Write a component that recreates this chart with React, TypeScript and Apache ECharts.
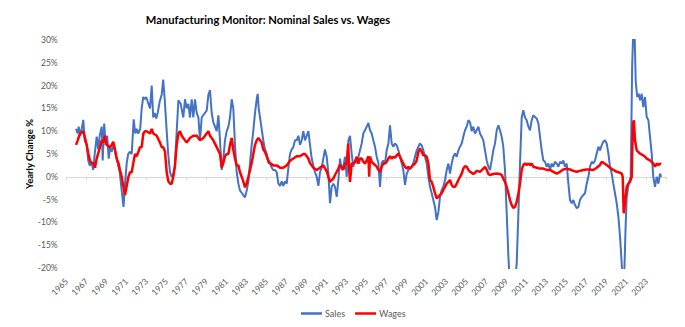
import React, { useEffect, useRef } from "react";
import * as echarts from "echarts";

const titleText = "Manufacturing Monitor: Nominal Sales vs. Wages";
const yAxisName = "Yearly Change %";
const seriesNames = ["Sales", "Wages"];
const yTicks = { min: -20, max: 30, step: 5 };
const xTicks = { min: 1965, max: 2025, step: 2, lastLabel: 2023 };

// [decimal year, yearly change %]
const sales: [number, number][] = [
  [1965.93, 10.5], [1966.1, 9.5], [1966.2, 11], [1966.35, 9], [1966.5, 10.5], [1966.66, 12.5], [1966.8, 8],
  [1967.0, 7], [1967.15, 3.6], [1967.3, 2.5], [1967.5, 3], [1967.65, 1.5], [1967.8, 5],
  [1968.0, 8.8], [1968.15, 6], [1968.3, 9], [1968.5, 11], [1968.6, 3.6], [1968.75, 11.7], [1968.9, 7],
  [1969.05, 9], [1969.2, 4], [1969.35, 6.5], [1969.5, 5.5], [1969.7, 7], [1969.9, 5],
  [1970.1, 3], [1970.3, 1], [1970.45, -2], [1970.55, -4], [1970.68, -6.6], [1970.85, -1],
  [1971.0, 3], [1971.15, 5], [1971.3, 5.5], [1971.5, 5], [1971.7, 12.6], [1971.85, 9.5],
  [1972.0, 10.5], [1972.15, 9.5], [1972.35, 10.5], [1972.5, 15], [1972.65, 17.5], [1972.8, 17], [1972.95, 17.5],
  [1973.1, 16.5], [1973.33, 15], [1973.5, 20], [1973.65, 13], [1973.8, 14], [1973.95, 12.8],
  [1974.1, 14], [1974.3, 16.5], [1974.5, 18], [1974.65, 21.3], [1974.8, 17],
  [1975.0, 10], [1975.15, 5], [1975.33, 1], [1975.5, 0], [1975.66, 0.5], [1975.8, 2],
  [1976.0, 10], [1976.17, 16.8], [1976.4, 16], [1976.66, 13], [1976.83, 17],
  [1977.0, 15], [1977.17, 16], [1977.33, 13], [1977.5, 17], [1977.66, 13], [1977.83, 17],
  [1978.0, 14], [1978.17, 13], [1978.33, 8], [1978.5, 13], [1978.66, 13.5], [1978.83, 14],
  [1979.0, 14.5], [1979.17, 18], [1979.33, 19], [1979.5, 14], [1979.66, 12], [1979.83, 11],
  [1980.0, 10], [1980.17, 13.5], [1980.33, 8], [1980.5, 1.5], [1980.66, 4], [1980.83, 8],
  [1981.0, 10], [1981.17, 11], [1981.33, 13], [1981.5, 17], [1981.66, 15], [1981.83, 7],
  [1982.0, 1], [1982.17, -1.5], [1982.33, -3], [1982.5, -3.5], [1982.66, -4], [1982.83, -4.5],
  [1983.0, -3], [1983.17, -1], [1983.33, 3], [1983.5, 7], [1983.66, 10], [1983.83, 14],
  [1984.0, 17], [1984.1, 18.2], [1984.2, 15], [1984.4, 12], [1984.66, 8], [1984.83, 6],
  [1985.0, 5], [1985.17, 3], [1985.33, 3], [1985.5, 2], [1985.66, 1.5], [1985.83, 1.5],
  [1986.0, 1], [1986.17, -1.5], [1986.33, -2], [1986.5, -1], [1986.66, -2], [1986.83, -1],
  [1987.0, -1.5], [1987.17, 2], [1987.33, 5], [1987.5, 6], [1987.66, 6.5], [1987.83, 8],
  [1988.0, 8], [1988.17, 9], [1988.33, 7], [1988.5, 8], [1988.66, 10], [1988.83, 8],
  [1989.0, 9], [1989.17, 10], [1989.33, 7], [1989.5, 4], [1989.66, 2.5], [1989.83, 1],
  [1990.0, 0], [1990.17, -2], [1990.33, 1], [1990.5, 2], [1990.66, 4], [1990.83, 6],
  [1991.0, 4.4], [1991.17, 0.7], [1991.33, -5.8], [1991.5, -2.2], [1991.66, -1.5], [1991.83, -2.2],
  [1992.0, -4.4], [1992.17, -0.7], [1992.33, 4], [1992.5, 1.5], [1992.66, 2.2], [1992.83, 4.4],
  [1993.0, 0], [1993.17, 8], [1993.33, 9], [1993.5, 5], [1993.66, 2.2], [1993.83, 3.6],
  [1994.0, 3], [1994.17, 4.4], [1994.33, 5.8], [1994.5, 7.3], [1994.66, 9.5], [1994.83, 10.2],
  [1995.0, 11], [1995.17, 11.8], [1995.33, 10.2], [1995.5, 9.5], [1995.66, 8], [1995.83, 6.6],
  [1996.0, 4.4], [1996.17, 3], [1996.33, -2.2], [1996.5, 3], [1996.66, 3.6], [1996.83, 2.9],
  [1997.0, 5.8], [1997.17, 7.3], [1997.33, 11.3], [1997.5, 7.3], [1997.66, 6.6], [1997.83, 7.3],
  [1998.0, 6.9], [1998.17, 5.8], [1998.33, 4.4], [1998.5, 3], [1998.66, 1.5], [1998.83, -1.8],
  [1999.0, 0.7], [1999.17, 1.5], [1999.33, 1.8], [1999.5, 2.2], [1999.66, 3], [1999.83, 4.4],
  [2000.0, 5.8], [2000.17, 6.6], [2000.33, 7.3], [2000.5, 6.9], [2000.66, 5.8], [2000.83, 4.4],
  [2001.0, 2.9], [2001.17, 0], [2001.33, -2.2], [2001.5, -3.6], [2001.66, -5.1], [2001.83, -6.6],
  [2002.0, -9.5], [2002.17, -7.7], [2002.33, -4.4], [2002.5, -2.9], [2002.66, -2.2], [2002.83, -0.7],
  [2003.0, 1.5], [2003.17, 2.9], [2003.33, 0.7], [2003.5, 2.9], [2003.66, 4.4], [2003.83, 5.1],
  [2004.0, 4.4], [2004.17, 5.8], [2004.33, 6.6], [2004.5, 7.3], [2004.66, 8.8], [2004.83, 10.2],
  [2005.0, 11], [2005.17, 12.4], [2005.33, 12], [2005.5, 10], [2005.66, 11], [2005.83, 9.5],
  [2006.0, 10.2], [2006.17, 11], [2006.33, 9.5], [2006.5, 8.8], [2006.66, 8], [2006.83, 5.8],
  [2007.0, 3.6], [2007.17, 2.2], [2007.33, 1.5], [2007.5, 3.6], [2007.66, 5.8], [2007.83, 7.3],
  [2008.0, 10.2], [2008.17, 11.3], [2008.33, 10.2], [2008.5, 8.8], [2008.66, 6.6], [2008.83, 1.5],
  [2009.0, -8], [2009.17, -17.5], [2009.33, -24], [2009.5, -27], [2009.66, -26], [2009.83, -23],
  [2010.0, -19], [2010.17, -8], [2010.33, 2.9], [2010.5, 13], [2010.66, 14.6], [2010.83, 13],
  [2011.0, 12.4], [2011.17, 11], [2011.33, 10.2], [2011.5, 12.4], [2011.66, 13.5], [2011.83, 13.1],
  [2012.0, 12.8], [2012.17, 11.7], [2012.33, 8.8], [2012.5, 5.8], [2012.66, 3.6], [2012.83, 3.3],
  [2013.0, 2.2], [2013.17, 2.9], [2013.33, 1.5], [2013.5, 2.9], [2013.66, 2.2], [2013.83, 3.3],
  [2014.0, 2.9], [2014.17, 2.2], [2014.33, 3.3], [2014.5, 2.9], [2014.66, 3.6], [2014.83, 2.2],
  [2015.0, 2.9], [2015.17, -1.5], [2015.33, -5.1], [2015.5, -5.8], [2015.66, -5.1], [2015.83, -6.2],
  [2016.0, -6.9], [2016.17, -6.6], [2016.33, -5.1], [2016.5, -4.4], [2016.66, -4], [2016.83, -3.6],
  [2017.0, -1.5], [2017.17, 0], [2017.33, 2.2], [2017.5, 3.3], [2017.66, 2.9], [2017.83, 3.6],
  [2018.0, 5.1], [2018.17, 6.6], [2018.33, 5.8], [2018.5, 6.9], [2018.66, 7.7], [2018.83, 8],
  [2019.0, 7.3], [2019.17, 5.1], [2019.33, 2.2], [2019.5, 0.7], [2019.66, -1.5], [2019.83, -3.6],
  [2020.0, -5.8], [2020.17, -8.8], [2020.33, -13], [2020.5, -19], [2020.6, -23], [2020.75, -22],
  [2020.88, -11.7], [2021.0, -4.4], [2021.2, -1.5], [2021.4, 0], [2021.55, 24.8], [2021.66, 32],
  [2021.8, 30.5], [2021.9, 21], [2022.05, 17.5], [2022.2, 18.2], [2022.33, 16.8], [2022.5, 18.2],
  [2022.66, 15.3], [2022.83, 17.5], [2023.0, 13.1], [2023.17, 12.4], [2023.33, 8.8], [2023.5, 5.1],
  [2023.66, 0], [2023.83, -2.2], [2024.0, 0], [2024.17, -1.5], [2024.33, 0.7], [2024.45, 0],
];

const wages: [number, number][] = [
  [1965.93, 7], [1966.1, 8], [1966.33, 9.5], [1966.66, 10], [1966.83, 8.5],
  [1967.0, 7], [1967.17, 5], [1967.33, 3.5], [1967.5, 3], [1967.66, 3], [1967.83, 2],
  [1968.0, 4], [1968.33, 6.5], [1968.5, 8], [1968.66, 7.5], [1968.83, 9],
  [1969.0, 7], [1969.33, 6.5], [1969.5, 7], [1969.66, 7.7], [1969.83, 6],
  [1970.0, 4], [1970.17, 3], [1970.33, 1.5], [1970.5, 0], [1970.66, -2], [1970.83, -4],
  [1971.0, -2], [1971.17, 0], [1971.33, 1], [1971.5, 1], [1971.66, 3], [1971.83, 5],
  [1972.0, 4.5], [1972.17, 5.5], [1972.33, 6.5], [1972.5, 6.5], [1972.66, 9.5], [1972.83, 10],
  [1973.0, 10], [1973.33, 9.5], [1973.5, 10.5], [1973.66, 9.5],
  [1974.0, 9], [1974.33, 7.5], [1974.5, 6.5], [1974.66, 6.5], [1974.83, 5.5],
  [1975.0, 1], [1975.17, -1], [1975.33, -1.5], [1975.5, -1.5], [1975.66, 0], [1975.83, 2.5],
  [1976.0, 7], [1976.17, 9.5], [1976.33, 10], [1976.5, 9], [1976.83, 8],
  [1977.0, 7.5], [1977.17, 8], [1977.33, 8.5], [1977.66, 9],
  [1978.0, 9], [1978.17, 8.5], [1978.33, 8], [1978.66, 8.5],
  [1979.0, 9.5], [1979.17, 10], [1979.33, 9], [1979.66, 8],
  [1980.0, 6.5], [1980.33, 5], [1980.5, 2], [1980.66, 3], [1980.83, 4.5],
  [1981.0, 5], [1981.17, 5], [1981.33, 7], [1981.5, 8.5], [1981.66, 6], [1981.83, 4],
  [1982.0, 2.5], [1982.17, 2.5], [1982.33, 1], [1982.5, 0], [1982.66, -1], [1982.83, -2.3],
  [1983.0, -1.5], [1983.17, 0], [1983.33, 1.5], [1983.5, 3], [1983.66, 5], [1983.83, 7],
  [1984.0, 8], [1984.17, 8.5], [1984.33, 8], [1984.5, 7.5], [1984.66, 6], [1984.83, 5.5],
  [1985.0, 4.5], [1985.17, 3.5], [1985.33, 3], [1985.66, 2.5],
  [1986.0, 2.5], [1986.33, 2], [1986.66, 2],
  [1987.0, 2.5], [1987.17, 3], [1987.33, 3.5], [1987.66, 4],
  [1988.0, 4.5], [1988.33, 4.5], [1988.66, 5], [1988.83, 5],
  [1989.0, 4.5], [1989.17, 4], [1989.33, 3], [1989.66, 2],
  [1990.0, 1.5], [1990.33, 2], [1990.66, 2.5],
  [1991.0, 1.2], [1991.17, 0], [1991.33, -1.1], [1991.5, -0.7], [1991.66, -0.4], [1991.83, 0.4],
  [1992.0, 1.1], [1992.17, 1.8], [1992.33, 2.6], [1992.5, 2.2], [1992.66, 1.5], [1992.83, 2.9],
  [1993.0, 2.9], [1993.15, 7.3], [1993.25, 1.5], [1993.33, -1.1], [1993.5, 2.9], [1993.66, 2.9], [1993.83, 3.3],
  [1994.0, 4.4], [1994.17, 2.9], [1994.33, 4], [1994.5, 4], [1994.66, 3.3], [1994.83, 2.9],
  [1995.0, 3.6], [1995.17, 4.5], [1995.25, 0], [1995.33, 4.4], [1995.5, 3.3], [1995.66, 2.9], [1995.83, 2.6],
  [1996.0, 2.2], [1996.17, 1.5], [1996.33, 1.1], [1996.5, 2.2], [1996.66, 2.9], [1996.83, 2.9],
  [1997.0, 3.3], [1997.17, 4], [1997.33, 4.5], [1997.5, 4], [1997.66, 4.4], [1997.83, 4.2],
  [1998.0, 4.7], [1998.17, 5.1], [1998.33, 4.4], [1998.5, 3.6], [1998.66, 2.9], [1998.83, 2.2],
  [1999.0, 1.8], [1999.17, 2.2], [1999.33, 1.8], [1999.5, 2.2], [1999.66, 2.6], [1999.83, 2.9],
  [2000.0, 3.6], [2000.17, 5.5], [2000.33, 6.2], [2000.5, 5.5], [2000.66, 4.7], [2000.83, 4.7],
  [2001.0, 4.4], [2001.17, 2.9], [2001.33, -0.7], [2001.5, -1.1], [2001.66, -2.2], [2001.83, -3.6],
  [2002.0, -4.7], [2002.17, -4.4], [2002.33, -4], [2002.5, -3.6], [2002.66, -2.9], [2002.83, -2.2],
  [2003.0, -1.5], [2003.17, -1.1], [2003.33, -0.7], [2003.5, -1.8], [2003.66, -2.2], [2003.83, -2.2],
  [2004.0, -1.5], [2004.17, -0.7], [2004.33, 0], [2004.5, 0.7], [2004.66, 1.8], [2004.83, 2.3],
  [2005.0, 2.2], [2005.17, 1.5], [2005.33, 1.1], [2005.5, 0.9], [2005.66, 0.6], [2005.83, 0.9],
  [2006.0, 1.3], [2006.33, 1.1], [2006.66, 1.8], [2006.83, 2.2],
  [2007.0, 1.5], [2007.17, 0.6], [2007.33, 0.4], [2007.66, 0.6],
  [2008.0, 0.7], [2008.33, 0.6], [2008.5, 0.4], [2008.66, -0.4], [2008.83, -1.1],
  [2009.0, -2.2], [2009.17, -3.6], [2009.33, -5.1], [2009.5, -6.2], [2009.66, -6.8], [2009.83, -6.6],
  [2010.0, -5.5], [2010.17, -3.6], [2010.33, -1.5], [2010.5, 1.5], [2010.66, 2.6], [2010.83, 2.9],
  [2011.0, 2.6], [2011.17, 2.9], [2011.33, 2.6], [2011.5, 2.9], [2011.66, 2.2],
  [2012.0, 2], [2012.33, 1.8], [2012.66, 1.8],
  [2013.0, 1.5], [2013.33, 1.5], [2013.66, 1.1],
  [2014.0, 0.7], [2014.33, 1.1], [2014.66, 1.6],
  [2015.0, 1.8], [2015.33, 1.6], [2015.66, 1.3],
  [2016.0, 1.1], [2016.33, 1.3], [2016.66, 1.5],
  [2017.0, 1.6], [2017.33, 1.6], [2017.66, 1.5],
  [2018.0, 2], [2018.33, 2.6], [2018.5, 3.3], [2018.66, 3.1],
  [2019.0, 2.6], [2019.33, 2], [2019.66, 1.5],
  [2020.0, 1.1], [2020.33, 0.9], [2020.5, 0.7], [2020.6, 0], [2020.7, -8], [2020.83, -5.8],
  [2021.0, -2.2], [2021.17, -1.5], [2021.33, -1.1], [2021.5, 0], [2021.62, 11.7], [2021.72, 12.4], [2021.83, 8],
  [2022.0, 5.8], [2022.33, 5.1], [2022.66, 4.7], [2022.83, 4.4],
  [2023.0, 4], [2023.33, 3.6], [2023.66, 2.9], [2023.83, 2.2],
  [2024.0, 2.9], [2024.17, 2.6], [2024.33, 2.9], [2024.45, 2.8],
];

const FONT = "Lato, 'Liberation Sans', sans-serif";
const GREY = "#595959";

export default function App() {
  const ref = useRef<HTMLDivElement>(null);
  useEffect(() => {
    if (!ref.current) return;
    const chart = echarts.init(ref.current, undefined, { renderer: "svg" });
    chart.setOption({
      animation: false,
      backgroundColor: "#ffffff",
      textStyle: { fontFamily: FONT },
      title: {
        text: titleText,
        left: 263,
        textAlign: "center",
        top: 9,
        textStyle: { fontFamily: FONT, fontSize: 11.2, fontWeight: "bold", color: "#000" },
      },
      legend: {
        data: seriesNames,
        left: 296,
        top: 304,
        icon: "rect",
        itemWidth: 21,
        itemHeight: 2.5,
        itemGap: 10,
        textStyle: { fontFamily: FONT, fontSize: 9, color: GREY, padding: [0, 0, 0, -2] },
      },
      grid: { left: 66.7, right: 18.3, top: 40, bottom: 59, containLabel: false },
      xAxis: [
        {
          type: "value",
          min: xTicks.min,
          max: xTicks.max,
          interval: xTicks.step,
          axisLine: { show: true, onZero: true, lineStyle: { color: "#D9D9D9", width: 1 } },
          axisTick: { show: true, length: 3, lineStyle: { color: "#D9D9D9" } },
          axisLabel: { show: false },
          splitLine: { show: false },
        },
        {
          type: "value",
          position: "bottom",
          min: xTicks.min,
          max: xTicks.max,
          interval: xTicks.step,
          axisLine: { show: false, onZero: false },
          axisTick: { show: false },
          splitLine: { show: false },
          axisLabel: {
            rotate: 45,
            margin: 12,
            fontSize: 8.5,
            color: GREY,
            fontFamily: FONT,
            formatter: (v: number) => (v > xTicks.lastLabel ? "" : String(v)),
          },
        },
      ],
      yAxis: {
        type: "value",
        min: yTicks.min,
        max: yTicks.max,
        interval: yTicks.step,
        name: yAxisName,
        nameLocation: "middle",
        nameGap: 32,
        nameMoveOverlap: false,
        nameTextStyle: { fontFamily: FONT, fontSize: 9.5, fontWeight: "bold", color: "#000" },
        axisLine: { show: false },
        axisTick: { show: false },
        splitLine: { show: false },
        axisLabel: { margin: 9, fontSize: 8.5, color: GREY, fontFamily: FONT, formatter: (v: number) => `${v}%` },
      },
      series: [
        {
          name: seriesNames[0],
          type: "line",
          xAxisIndex: 0,
          data: sales,
          showSymbol: false,
          symbol: "none",
          clip: true,
          color: "#4472C4",
          lineStyle: { color: "#4472C4", width: 2 },
        },
        {
          name: seriesNames[1],
          type: "line",
          xAxisIndex: 0,
          data: wages,
          showSymbol: false,
          symbol: "none",
          clip: true,
          color: "#FF0000",
          lineStyle: { color: "#FF0000", width: 2.5 },
        },
      ],
    });
    return () => chart.dispose();
  }, []);
  return <div ref={ref} style={{ position: "fixed", left: 0, top: 0, width: 685, height: 327 }} />;
}
